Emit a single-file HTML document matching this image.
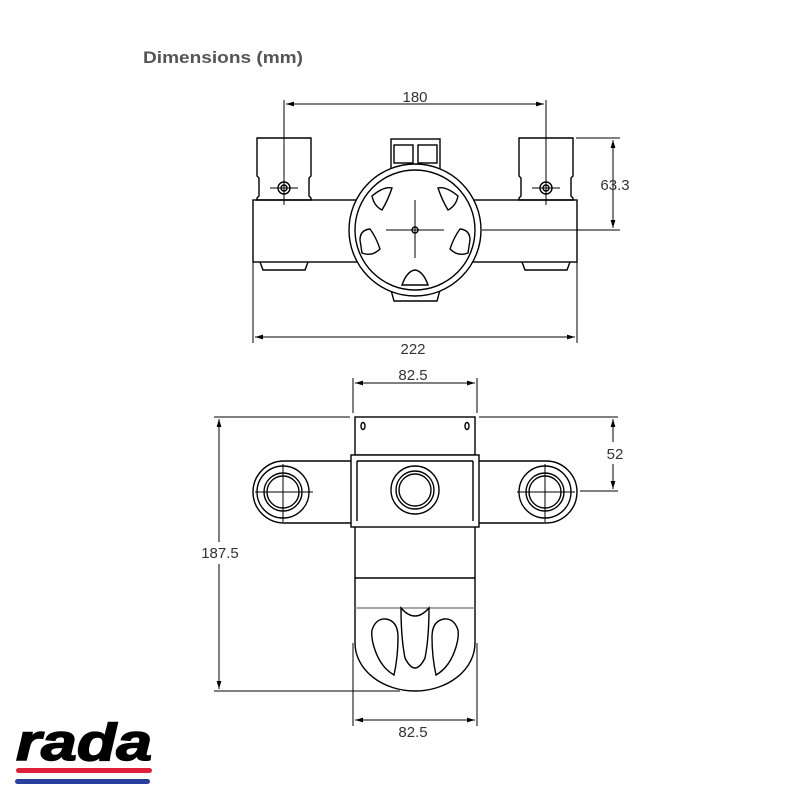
<!DOCTYPE html>
<html><head><meta charset="utf-8"><style>
html,body{margin:0;padding:0;background:#fff;width:800px;height:800px;overflow:hidden}
svg{display:block}
text{font-family:"Liberation Sans",Arial,sans-serif}
</style></head><body>
<svg width="800" height="800" viewBox="0 0 800 800" xmlns="http://www.w3.org/2000/svg">
<defs>
<marker id="a" viewBox="0 0 10 10" refX="10" refY="5" markerWidth="8" markerHeight="8" orient="auto-start-reverse"><path d="M0,2 L10,5 L0,8 z" fill="#000"/></marker>
</defs>
<text x="143" y="63" font-size="17" font-weight="bold" fill="#555" textLength="160" lengthAdjust="spacingAndGlyphs">Dimensions (mm)</text>

<g fill="none" stroke="#000" stroke-width="1.4">
<path d="M257,138 H311 V176 L309,178 V196 L311,198 V200 H257 V198 L259,196 V178 L257,176 Z"/>
<path d="M519,138 H573 V176 L571,178 V196 L573,198 V200 H519 V198 L521,196 V178 L519,176 Z"/>
<rect x="253" y="200" width="324" height="62"/>
<path d="M260,262 L263,270 H305 L308,262"/>
<path d="M522,262 L525,270 H567 L570,262"/>
<rect x="391" y="139" width="49" height="30" fill="#fff"/>
<rect x="394" y="145" width="19" height="18"/>
<rect x="418" y="145" width="19" height="18"/>
<path d="M391,290 L394,301 H437 L440,290"/>
<circle cx="415" cy="230" r="66" fill="#fff"/>
<circle cx="415" cy="230" r="60"/>
<path d="M372,196 q12,-10 20,-8 q-4,12 -10,22 q-8,-4 -10,-14z"/>
<path d="M458,196 q-12,-10 -20,-8 q4,12 10,22 q8,-4 10,-14z"/>
<path d="M360,240 q0,-10 10,-11 q6,8 10,20 q-8,8 -18,4z"/>
<path d="M470,240 q0,-10 -10,-11 q-6,8 -10,20 q8,8 18,4z"/>
<path d="M402,285 q5,-14 13,-15 q8,1 13,15z"/>
<circle cx="415" cy="230" r="3"/>
<circle cx="284" cy="188" r="6"/><circle cx="284" cy="188" r="3"/>
<circle cx="546" cy="188" r="6"/><circle cx="546" cy="188" r="3"/>
</g>
<g stroke="#000" stroke-width="1" fill="none">
<line x1="415" y1="200" x2="415" y2="258"/><line x1="386" y1="230" x2="444" y2="230"/>
<line x1="284" y1="100" x2="284" y2="205"/><line x1="270" y1="188" x2="298" y2="188"/>
<line x1="546" y1="100" x2="546" y2="205"/><line x1="532" y1="188" x2="560" y2="188"/>
<line x1="286" y1="104" x2="544" y2="104" marker-start="url(#a)" marker-end="url(#a)"/>
<line x1="576" y1="138" x2="620" y2="138"/>
<line x1="482" y1="230" x2="620" y2="230"/>
<line x1="613" y1="140" x2="613" y2="228" marker-start="url(#a)" marker-end="url(#a)"/>
<line x1="253" y1="262" x2="253" y2="343"/><line x1="577" y1="262" x2="577" y2="343"/>
<line x1="255" y1="337" x2="575" y2="337" marker-start="url(#a)" marker-end="url(#a)"/>
</g>
<text x="415" y="102" font-size="15" text-anchor="middle" fill="#333">180</text>
<text x="615" y="190" font-size="15" text-anchor="middle" fill="#333">63.3</text>
<text x="413" y="354" font-size="15" text-anchor="middle" fill="#333">222</text>

<g fill="none" stroke="#000" stroke-width="1.4">
<rect x="355" y="417" width="120" height="38"/>
<path d="M284,461 H357 V523 H284 A31,31 0 0 1 284,461 Z"/>
<path d="M546,461 H473 V523 H546 A31,31 0 0 0 546,461 Z"/>
<rect x="351" y="455" width="128" height="72" fill="#fff"/>
<line x1="357" y1="461" x2="357" y2="521"/><line x1="473" y1="461" x2="473" y2="521"/>
<line x1="357" y1="461" x2="473" y2="461"/>
<path d="M355,527 V643 A60,48 0 0 0 475,643 V527"/>
<line x1="355" y1="578" x2="475" y2="578"/>
<line x1="355" y1="608" x2="475" y2="608" stroke="#888"/>
<circle cx="283" cy="492" r="26"/><circle cx="283" cy="492" r="19"/><circle cx="283" cy="492" r="16"/>
<circle cx="415" cy="490" r="24"/><circle cx="415" cy="490" r="19"/><circle cx="415" cy="490" r="16"/>
<circle cx="545" cy="492" r="26"/><circle cx="545" cy="492" r="19"/><circle cx="545" cy="492" r="16"/>
<path d="M372,630 q4,-12 14,-11 q12,2 12,18 q0,20 -4,38 q-14,-8 -20,-28 q-3,-10 -2,-17z"/>
<path d="M458,630 q-4,-12 -14,-11 q-12,2 -12,18 q0,20 4,38 q14,-8 20,-28 q3,-10 2,-17z"/>
<path d="M401,608 q0,30 4,50 q5,10 10,10 q5,0 10,-10 q4,-20 4,-50 q-7,8 -14,8 q-7,0 -14,-8z"/>
<ellipse cx="363" cy="426" rx="2" ry="3.5"/><ellipse cx="467" cy="426" rx="2" ry="3.5"/>
</g>
<g stroke="#000" stroke-width="1" fill="none">
<line x1="283" y1="464" x2="283" y2="522"/><line x1="255" y1="492" x2="313" y2="492"/>
<line x1="545" y1="464" x2="545" y2="522"/><line x1="517" y1="492" x2="575" y2="492"/>
<line x1="353" y1="378" x2="353" y2="413"/><line x1="477" y1="378" x2="477" y2="413"/>
<line x1="355" y1="383" x2="475" y2="383" marker-start="url(#a)" marker-end="url(#a)"/>
<line x1="214" y1="417" x2="350" y2="417"/><line x1="479" y1="417" x2="618" y2="417"/>
<line x1="214" y1="691" x2="400" y2="691"/>
<line x1="219" y1="419" x2="219" y2="689" marker-start="url(#a)" marker-end="url(#a)"/>
<line x1="580" y1="491" x2="618" y2="491"/>
<line x1="613" y1="419" x2="613" y2="489" marker-start="url(#a)" marker-end="url(#a)"/>
<line x1="353" y1="643" x2="353" y2="726"/><line x1="477" y1="643" x2="477" y2="726"/>
<line x1="355" y1="720" x2="475" y2="720" marker-start="url(#a)" marker-end="url(#a)"/>
</g>
<rect x="602" y="442" width="26" height="22" fill="#fff"/>
<text x="615" y="459" font-size="15" text-anchor="middle" fill="#333">52</text>
<rect x="196" y="542" width="46" height="22" fill="#fff"/>
<text x="220" y="558" font-size="15" text-anchor="middle" fill="#333">187.5</text>
<text x="413" y="380" font-size="15" text-anchor="middle" fill="#333">82.5</text>
<text x="413" y="737" font-size="15" text-anchor="middle" fill="#333">82.5</text>

<text x="84" y="760" font-size="52" font-weight="bold" font-style="italic" text-anchor="middle" fill="#000" stroke="#000" stroke-width="1.5" textLength="136" lengthAdjust="spacingAndGlyphs">rada</text>
<rect x="16" y="768" width="136" height="5" rx="2.5" fill="#e0203a"/>
<rect x="15" y="779" width="135" height="5" rx="2.5" fill="#2a3e9c"/>
</svg>
</body></html>
